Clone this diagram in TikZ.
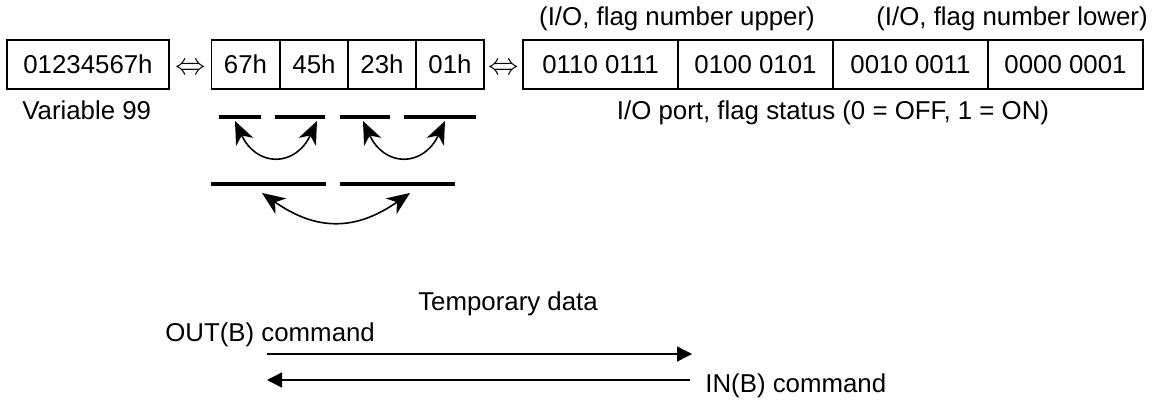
\documentclass[tikz,border=0pt]{standalone}
\usepackage{fontspec}
\setmainfont{Liberation Sans}
\usetikzlibrary{arrows.meta}

\tikzset{
  cella/.style={draw, line width=0.9pt, minimum height=0.98cm, inner sep=0pt},
  scritta/.style={inner sep=0pt},
  equiv/.style={inner sep=0pt, font=\fontsize{19}{19}\selectfont},
  barra/.style={line width=2.2pt},
  scambio/.style={line width=0.9pt, {Stealth[length=0.46cm,width=0.38cm,inset=0.14cm]}-{Stealth[length=0.46cm,width=0.38cm,inset=0.14cm]}},
  freccia/.style={line width=0.8pt, -{Triangle[length=0.3cm,width=0.3cm]}}
}

\begin{document}
\begin{tikzpicture}[x=0.02cm, y=-0.02cm, font=\fontsize{14.7}{17}\selectfont]

    \useasboundingbox (0,0) rectangle (1155,402);

    % Variabile (valore a 32 bit)
    \node[cella, minimum width=3.24cm] (var) at (88,64.5) {01234567h};
    \node[scritta, anchor=base west] (varlab) at (22,119) {Variable 99};
    \node[equiv] (eq1) at (190.5,69) {$\Leftrightarrow$};

    % Byte
    \node[cella, minimum width=1.36cm] (b1) at (245.5,64.5) {67h};
    \node[cella, minimum width=1.36cm] (b2) at (314,64.5) {45h};
    \node[cella, minimum width=1.36cm] (b3) at (382,64.5) {23h};
    \node[cella, minimum width=1.36cm] (b4) at (450,64.5) {01h};
    \node[equiv] (eq2) at (504,69) {$\Leftrightarrow$};

    % Stato porte I/O e flag
    \node[cella, minimum width=3.1cm] (p1) at (600.5,64.5) {0110 0111};
    \node[cella, minimum width=3.1cm] (p2) at (755.5,64.5) {0100 0101};
    \node[cella, minimum width=3.1cm] (p3) at (910.5,64.5) {0010 0011};
    \node[cella, minimum width=3.1cm] (p4) at (1065.5,64.5) {0000 0001};
    \node[scritta, anchor=base] (sup) at (677,26) {(I/O, flag number upper)};
    \node[scritta, anchor=base] (inf) at (1012,26) {(I/O, flag number lower)};
    \node[scritta, anchor=base] (portlab) at (833,119) {I/O port, flag status (0 = OFF, 1 = ON)};

    % Barre (scambio dei byte)
    \draw[barra] (219,117) -- (261,117);
    \draw[barra] (275,117) -- (325,117);
    \draw[barra] (340,117) -- (390,117);
    \draw[barra] (404,117) -- (476,117);
    \draw[barra] (211,184) -- (326,184);
    \draw[barra] (340,184) -- (455,184);

    % Frecce curve
    \coordinate (s1a) at (235,121);
    \coordinate (s1b) at (317,121);
    \coordinate (s2a) at (363,121);
    \coordinate (s2b) at (445,121);
    \coordinate (s3a) at (262,193);
    \coordinate (s3b) at (410,193);
    \draw[scambio] (s1a) to[out=-65, in=-115, looseness=1.6] (s1b);
    \draw[scambio] (s2a) to[out=-65, in=-115, looseness=1.6] (s2b);
    \draw[scambio] (s3a) to[out=-35, in=-145, looseness=1.15] (s3b);

    % Dati temporanei
    \node[scritta, anchor=base] (tmp) at (508,310) {Temporary data};
    \node[scritta, anchor=base west] (outcmd) at (165,341) {OUT(B) command};
    \node[scritta, anchor=base west] (incmd) at (705,392) {IN(B) command};
    \coordinate (o1) at (267,354);
    \coordinate (o2) at (692,354);
    \coordinate (i1) at (690,380);
    \coordinate (i2) at (267,380);
    \draw[freccia] (o1) -- (o2);
    \draw[freccia] (i1) -- (i2);

\end{tikzpicture}
\end{document}
